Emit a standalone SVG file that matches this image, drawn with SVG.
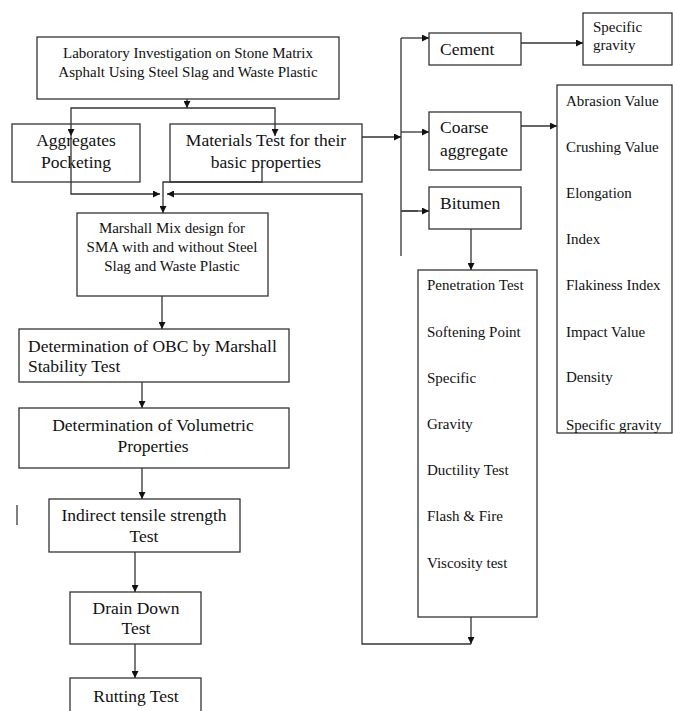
<svg xmlns="http://www.w3.org/2000/svg" width="673" height="711" viewBox="0 0 673 711">
<defs>
<style>
.box{fill:#fff;stroke:#333;stroke-width:1.3}
.t{font-family:"Liberation Serif","Times New Roman",serif;fill:#111}
.c{text-anchor:middle}
.ln{fill:none;stroke:#333;stroke-width:1.3}
.arr{fill:none;stroke:#333;stroke-width:1.3;marker-end:url(#ah)}
</style>
<marker id="ah" viewBox="0 0 10 10" refX="10" refY="5" markerWidth="7" markerHeight="7" markerUnits="userSpaceOnUse" orient="auto">
<path d="M0,0 L10,5 L0,10 z" fill="#111"/>
</marker>
<clipPath id="clipAb"><rect x="557" y="85" width="116" height="348"/></clipPath>
</defs>
<rect width="673" height="711" fill="#fff"/>

<g id="n-top">
<rect class="box" x="37" y="37" width="302" height="62"/>
<text class="t c" x="188" y="58" font-size="15">Laboratory Investigation on Stone Matrix</text>
<text class="t c" x="188" y="77" font-size="15">Asphalt Using Steel Slag and Waste Plastic</text>
</g>

<g id="n-aggregates">
<rect class="box" x="12" y="124" width="128" height="58"/>
<text class="t c" x="76" y="146" font-size="17.5">Aggregates</text>
<text class="t c" x="76" y="168" font-size="17.5">Pocketing</text>
</g>

<g id="n-materials">
<rect class="box" x="170" y="124" width="192" height="58"/>
<text class="t c" x="266" y="146" font-size="17.5">Materials Test for their</text>
<text class="t c" x="266" y="168" font-size="17.5">basic properties</text>
</g>

<g id="n-marshall">
<rect class="box" x="77" y="213" width="191" height="83"/>
<text class="t c" x="172" y="233" font-size="15">Marshall Mix design for</text>
<text class="t c" x="172" y="252" font-size="15">SMA with and without Steel</text>
<text class="t c" x="172" y="271" font-size="15">Slag and Waste Plastic</text>
</g>

<g id="n-obc">
<rect class="box" x="19" y="329" width="270" height="53"/>
<text class="t" x="28" y="352" font-size="17.5">Determination of OBC by Marshall</text>
<text class="t" x="28" y="372" font-size="17.5">Stability Test</text>
</g>

<g id="n-volumetric">
<rect class="box" x="19" y="408" width="270" height="60"/>
<text class="t c" x="153" y="431" font-size="17.5">Determination of Volumetric</text>
<text class="t c" x="153" y="452" font-size="17.5">Properties</text>
</g>

<g id="n-indirect">
<rect class="box" x="49" y="499" width="191" height="53"/>
<text class="t c" x="144" y="521" font-size="17.5">Indirect tensile strength</text>
<text class="t c" x="144" y="542" font-size="17.5">Test</text>
</g>

<g id="n-drain">
<rect class="box" x="70" y="592" width="131" height="52"/>
<text class="t c" x="136" y="614" font-size="17.5">Drain Down</text>
<text class="t c" x="136" y="634" font-size="17.5">Test</text>
</g>

<g id="n-rutting">
<rect class="box" x="70" y="678" width="131" height="40"/>
<text class="t c" x="136" y="702" font-size="17.5">Rutting Test</text>
</g>

<g id="n-cement">
<rect class="box" x="429" y="33" width="92" height="32"/>
<text class="t" x="440" y="55" font-size="17.5">Cement</text>
</g>

<g id="n-specgrav">
<rect class="box" x="583" y="13" width="89" height="52"/>
<text class="t" x="593" y="32" font-size="15">Specific</text>
<text class="t" x="593" y="50" font-size="15">gravity</text>
</g>

<g id="n-coarse">
<rect class="box" x="429" y="112" width="92" height="58"/>
<text class="t" x="440" y="133" font-size="17.5">Coarse</text>
<text class="t" x="440" y="156" font-size="17.5">aggregate</text>
</g>

<g id="n-bitumen">
<rect class="box" x="429" y="187" width="92" height="42"/>
<text class="t" x="440" y="209" font-size="17.5">Bitumen</text>
</g>

<g id="n-aggtests">
<rect class="box" x="557" y="85" width="115" height="348"/>
<g clip-path="url(#clipAb)">
<text class="t" x="566" y="106" font-size="15">Abrasion Value</text>
<text class="t" x="566" y="152" font-size="15">Crushing Value</text>
<text class="t" x="566" y="198" font-size="15">Elongation</text>
<text class="t" x="566" y="244" font-size="15">Index</text>
<text class="t" x="566" y="290" font-size="15">Flakiness Index</text>
<text class="t" x="566" y="337" font-size="15">Impact Value</text>
<text class="t" x="566" y="382" font-size="15">Density</text>
<text class="t" x="566" y="430" font-size="15">Specific gravity</text>
</g>
</g>

<g id="n-bittests">
<rect class="box" x="418" y="270" width="119" height="347"/>
<text class="t" x="427" y="290" font-size="15">Penetration Test</text>
<text class="t" x="427" y="337" font-size="15">Softening Point</text>
<text class="t" x="427" y="383" font-size="15">Specific</text>
<text class="t" x="427" y="429" font-size="15">Gravity</text>
<text class="t" x="427" y="475" font-size="15">Ductility Test</text>
<text class="t" x="427" y="521" font-size="15">Flash &amp; Fire</text>
<text class="t" x="427" y="568" font-size="15">Viscosity test</text>
</g>

<g id="connectors">
<path class="arr" d="M187,99 V108"/>
<path class="arr" d="M187,108 H71 V136"/>
<path class="arr" d="M187,108 H275 V136"/>
<path class="arr" d="M71,136 V194 H160"/>
<path class="arr" d="M262,166 V182 H163 V213"/>
<path class="arr" d="M471,617 V644"/>
<path class="arr" d="M471,644 H362 V194 H167"/>
<path class="arr" d="M162,296 V329"/>
<path class="arr" d="M142,382 V408"/>
<path class="arr" d="M142,468 V499"/>
<path class="arr" d="M135,552 V592"/>
<path class="arr" d="M135,644 V678"/>
<path class="arr" d="M362,137 H401"/>
<path class="ln" d="M401,38 V256"/>
<path class="arr" d="M401,38 H429"/>
<path class="arr" d="M401,132 H429"/>
<path class="arr" d="M401,211 H429"/>
<path class="ln" d="M402,211 H418" stroke-width="2.4"/>
<path class="arr" d="M521,43 H583"/>
<path class="arr" d="M521,126 H557"/>
<path class="arr" d="M471,229 V270"/>
</g>

<path d="M17,505 V525" stroke="#555" stroke-width="1.5"/>
</svg>
